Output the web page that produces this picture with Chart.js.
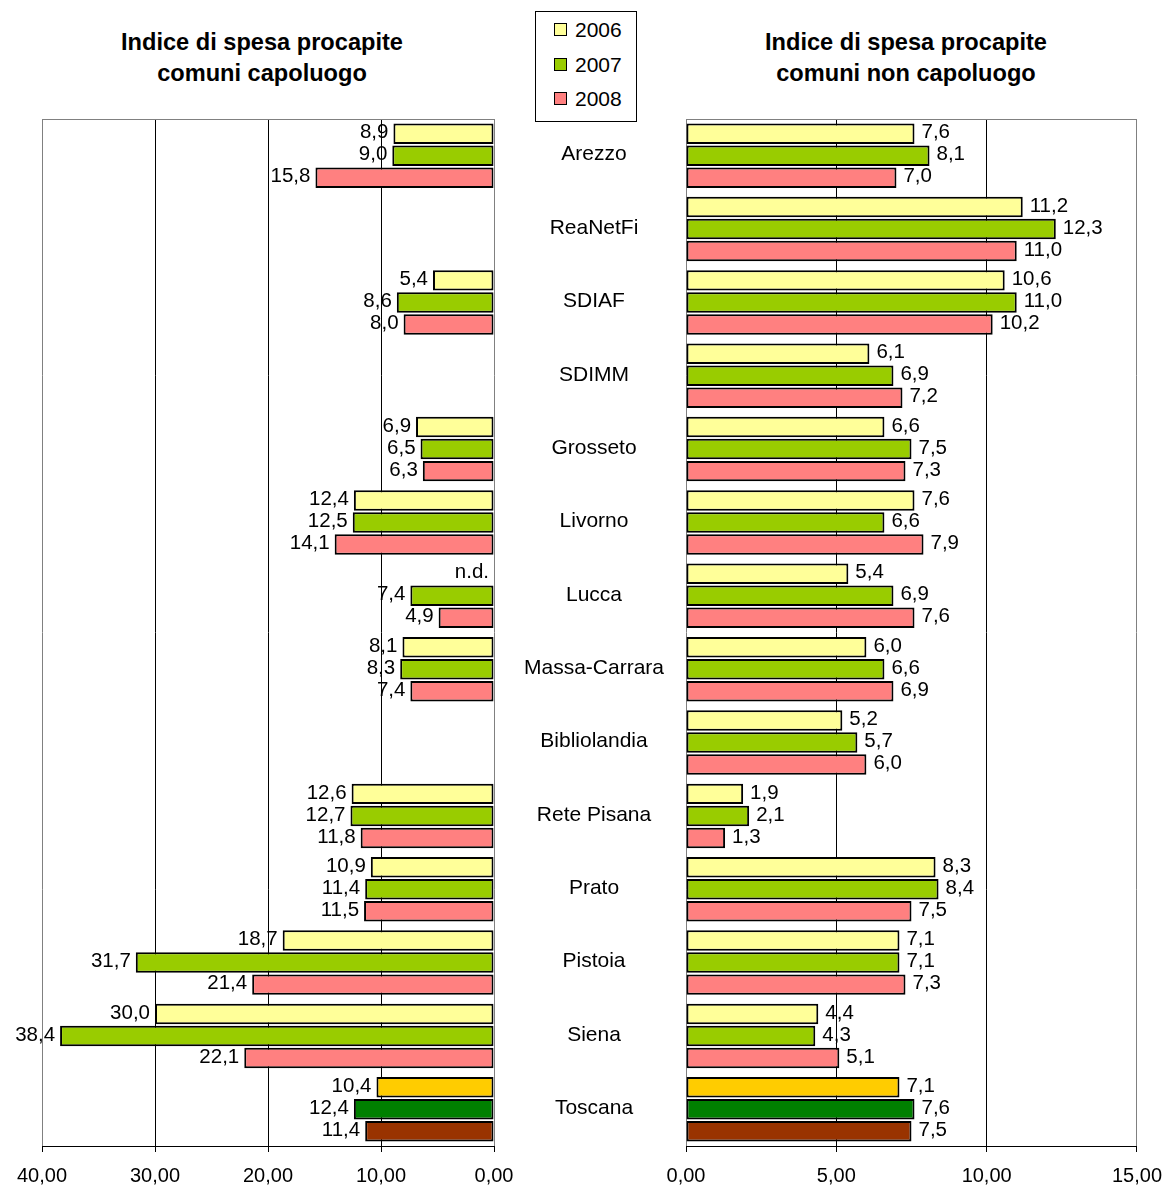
<!DOCTYPE html>
<html lang="it">
<head>
<meta charset="utf-8">
<title>Indice di spesa procapite</title>
<script src="https://cdn.jsdelivr.net/npm/chart.js@4.4.1/dist/chart.umd.min.js"></script>
<style>
  html, body { margin: 0; padding: 0; background: #fff; }
  #page { position: relative; width: 1166px; height: 1187px; overflow: hidden;
          font-family: 'Liberation Sans', Arial, sans-serif; color: #000; }
  .title { position: absolute; top: 27px; width: 400px; text-align: center;
           font-weight: bold; font-size: 23.6px; line-height: 31px; }
  #legend { position: absolute; left: 535px; top: 11px; width: 102px; height: 111px;
            border: 1px solid #000; box-sizing: border-box; background: #fff; }
  .leg-item { position: absolute; left: 18px; height: 24px; line-height: 24px; font-size: 21px; }
  .leg-item span { display: inline-block; width: 11px; height: 11px; border: 1px solid #000;
                   margin-right: 8px; vertical-align: 1px; }
  canvas { position: absolute; top: 0; }
  #left { left: 0; }
  #right { left: 640px; }
</style>
</head>
<body>
<div id="page">
  <div class="title" style="left:62px">Indice di spesa procapite<br>comuni capoluogo</div>
  <div class="title" style="left:706px">Indice di spesa procapite<br>comuni non capoluogo</div>
  <div id="legend"></div>
  <canvas id="left" width="680" height="1187"></canvas>
  <canvas id="right" width="534" height="1187"></canvas>
</div>
<script>
const categories = ['Arezzo', 'ReaNetFi', 'SDIAF', 'SDIMM', 'Grosseto', 'Livorno', 'Lucca',
  'Massa-Carrara', 'Bibliolandia', 'Rete Pisana', 'Prato', 'Pistoia', 'Siena', 'Toscana'];
const years = ['2006', '2007', '2008'];

// comuni capoluogo (null = no value; n.d. when the other years exist)
const capoluogo2006 = [8.9, null, 5.4, null, 6.9, 12.4, null, 8.1, null, 12.6, 10.9, 18.7, 30.0, 10.4];
const capoluogo2007 = [9.0, null, 8.6, null, 6.5, 12.5, 7.4, 8.3, null, 12.7, 11.4, 31.7, 38.4, 12.4];
const capoluogo2008 = [15.8, null, 8.0, null, 6.3, 14.1, 4.9, 7.4, null, 11.8, 11.5, 21.4, 22.1, 11.4];

// comuni non capoluogo
const nonCapoluogo2006 = [7.6, 11.2, 10.6, 6.1, 6.6, 7.6, 5.4, 6.0, 5.2, 1.9, 8.3, 7.1, 4.4, 7.1];
const nonCapoluogo2007 = [8.1, 12.3, 11.0, 6.9, 7.5, 6.6, 6.9, 6.6, 5.7, 2.1, 8.4, 7.1, 4.3, 7.6];
const nonCapoluogo2008 = [7.0, 11.0, 10.2, 7.2, 7.3, 7.9, 7.6, 6.9, 6.0, 1.3, 7.5, 7.3, 5.1, 7.5];

const leftTicks = [0, 10, 20, 30, 40];
const rightTicks = [0, 5, 10, 15];

const seriesColors = ['#FFFF99', '#99CC00', '#FF8080'];
const totalColors = ['#FFCC00', '#008000', '#993300'];
const totalCategory = 'Toscana';

const FONT = "'Liberation Sans', Arial, sans-serif";
Chart.defaults.font.family = FONT;
Chart.defaults.color = '#000';

const fmtValue = v => v.toFixed(1).replace('.', ',');
const fmtTick = v => v.toFixed(2).replace('.', ',');

// legend box
const legend = document.getElementById('legend');
years.forEach((y, i) => {
  const item = document.createElement('div');
  item.className = 'leg-item';
  item.style.top = (6 + i * 34.5) + 'px';
  const sw = document.createElement('span');
  sw.style.background = seriesColors[i];
  item.appendChild(sw);
  item.appendChild(document.createTextNode(y));
  legend.appendChild(item);
});

// value next to each bar; missing year inside a filled row shows n.d.
const valueLabels = {
  id: 'valueLabels',
  afterDatasetsDraw(chart, args, opts) {
    const ctx = chart.ctx;
    const xs = chart.scales.x;
    const base = xs.getPixelForValue(0);
    const dir = opts.side === 'left' ? -1 : 1;
    ctx.save();
    ctx.font = '20.5px ' + FONT;
    ctx.fillStyle = '#000';
    ctx.textBaseline = 'middle';
    ctx.textAlign = dir < 0 ? 'right' : 'left';
    chart.data.datasets.forEach((ds, di) => {
      chart.getDatasetMeta(di).data.forEach((bar, i) => {
        const v = ds.data[i];
        let text, x;
        if (v == null) {
          if (!chart.data.datasets.some(d => d.data[i] != null)) return;
          text = 'n.d.';
          x = base;
        } else {
          text = fmtValue(v);
          x = xs.getPixelForValue(v);
        }
        ctx.fillText(text, x + dir * opts.gap, bar.y - 1);
      });
    });
    ctx.restore();
  }
};

// grey top edge of the plot area
const plotFrame = {
  id: 'plotFrame',
  beforeDatasetsDraw(chart) {
    const {ctx, chartArea: a} = chart;
    ctx.save();
    ctx.strokeStyle = '#808080';
    ctx.lineWidth = 1;
    ctx.beginPath();
    ctx.moveTo(a.left, a.top + 0.5);
    ctx.lineTo(a.right, a.top + 0.5);
    ctx.stroke();
    ctx.restore();
  }
};

// category names in the gap between the two panels
const categoryNames = {
  id: 'categoryNames',
  afterDraw(chart) {
    const ctx = chart.ctx;
    const ys = chart.scales.y;
    ctx.save();
    ctx.font = '21px ' + FONT;
    ctx.fillStyle = '#000';
    ctx.textAlign = 'center';
    ctx.textBaseline = 'middle';
    categories.forEach((c, i) => ctx.fillText(c, chart.chartArea.right + 100, ys.getPixelForValue(i) - 1));
    ctx.restore();
  }
};

function makeDatasets(series) {
  return series.map((data, k) => ({
    label: years[k],
    data: data,
    backgroundColor: ctx => categories[ctx.dataIndex] === totalCategory ? totalColors[k] : seriesColors[k],
    borderColor: '#000',
    borderWidth: 2,
    borderSkipped: false,
    categoryPercentage: 0.9,
    barPercentage: 0.93
  }));
}

function makeChart(id, series, max, ticks, reverse, padding, side, extraPlugins) {
  const edges = [0, max];
  return new Chart(document.getElementById(id), {
    type: 'bar',
    data: { labels: categories, datasets: makeDatasets(series) },
    plugins: [plotFrame, valueLabels].concat(extraPlugins),
    options: {
      indexAxis: 'y',
      responsive: false,
      animation: false,
      events: [],
      layout: { padding: padding },
      scales: {
        x: {
          min: 0,
          max: max,
          reverse: reverse,
          afterBuildTicks: scale => { scale.ticks = ticks.map(v => ({ value: v })); },
          afterFit: scale => { scale.height = 41; },
          ticks: { padding: 12, font: { size: 20 }, color: '#000', callback: v => fmtTick(v) },
          grid: {
            color: c => edges.includes(c.tick && c.tick.value) ? '#808080' : '#000',
            tickColor: '#000',
            tickLength: 6,
            lineWidth: 1
          },
          border: { color: '#000', width: 1 }
        },
        y: { display: false }
      },
      plugins: {
        legend: { display: false },
        tooltip: { enabled: false },
        valueLabels: { side: side, gap: side === 'left' ? 5 : 7 }
      }
    }
  });
}

makeChart('left', [capoluogo2006, capoluogo2007, capoluogo2008], 40, leftTicks, true,
  { left: 42, right: 186, top: 119, bottom: 0 }, 'left', [categoryNames]);
makeChart('right', [nonCapoluogo2006, nonCapoluogo2007, nonCapoluogo2008], 15, rightTicks, false,
  { left: 46, right: 37, top: 119, bottom: 0 }, 'right', []);
</script>
</body>
</html>
